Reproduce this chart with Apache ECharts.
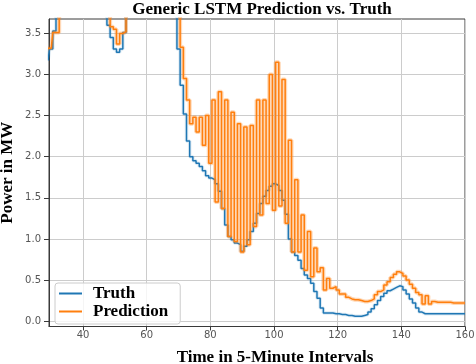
<!DOCTYPE html>
<html><head><meta charset="utf-8">
<script src="https://cdn.jsdelivr.net/npm/echarts@6/dist/echarts.min.js"></script>
<style>html,body{margin:0;padding:0;background:#fff}#c{width:476px;height:364px}</style>
</head><body><div id="c"></div>
<script>
// time index of the first value; values are one per 5-minute interval
const startStep = 29;
// Truth (MW), steps 29..160 (values above 3.67 leave the plotted window)
const truth = [
  3.17, 3.31, 3.53, 3.9, 3.9, 3.9, 3.9, 3.9, 3.9, 3.9,
  3.9, 3.9, 3.9, 3.9, 3.9, 3.9, 3.9, 3.9, 3.9, 3.6,
  3.45, 3.31, 3.27, 3.31, 3.51, 3.9, 3.9, 3.9, 3.9, 3.9,
  3.9, 3.9, 3.9, 3.9, 3.9, 3.9, 3.9, 3.9, 3.9, 3.9,
  3.9, 3.31, 2.87, 2.52, 2.19, 2.0, 1.95, 1.92, 1.88, 1.83,
  1.77, 1.74, 1.72, 1.67, 1.58, 1.37, 1.17, 1.03, 0.99, 0.95,
  0.93, 0.85, 0.91, 0.99, 1.09, 1.19, 1.31, 1.43, 1.52, 1.59,
  1.64, 1.67, 1.65, 1.59, 1.47, 1.3, 1.0, 0.84, 0.8, 0.74,
  0.64, 0.56, 0.52, 0.46, 0.36, 0.28, 0.16, 0.1, 0.1, 0.1,
  0.09, 0.09, 0.08, 0.08, 0.07, 0.07, 0.06, 0.06, 0.06, 0.07,
  0.08, 0.11, 0.15, 0.2, 0.25, 0.3, 0.34, 0.37, 0.39, 0.41,
  0.43, 0.42, 0.38, 0.33, 0.27, 0.22, 0.16, 0.11, 0.09, 0.09,
  0.09, 0.09, 0.09, 0.09, 0.09, 0.09, 0.09, 0.09, 0.09, 0.09,
  0.09, 0.09
];
// Prediction (MW), steps 29..160
const prediction = [
  3.32, 3.32, 3.51, 3.51, 3.9, 3.9, 3.9, 3.9, 3.9, 3.9,
  3.9, 3.9, 3.9, 3.9, 3.9, 3.9, 3.9, 3.9, 3.9, 3.9,
  3.58, 3.55, 3.37, 3.5, 3.52, 3.9, 3.9, 3.9, 3.9, 3.9,
  3.9, 3.9, 3.9, 3.9, 3.9, 3.9, 3.9, 3.9, 3.9, 3.9,
  3.9, 3.9, 3.33, 2.95, 2.69, 2.4, 2.48, 2.3, 2.48, 2.14,
  2.5, 1.92, 2.69, 1.45, 2.79, 1.37, 2.69, 1.03, 2.54, 0.97,
  2.4, 0.84, 2.36, 0.93, 2.38, 1.15, 2.69, 1.29, 2.69, 1.43,
  3.0, 1.35, 3.15, 1.4, 2.94, 1.19, 2.2, 0.84, 1.72, 0.84,
  1.29, 0.62, 1.09, 0.54, 0.89, 0.6, 0.65, 0.38, 0.52, 0.4,
  0.42, 0.38, 0.33, 0.33, 0.29, 0.27, 0.26, 0.26, 0.25, 0.24,
  0.24, 0.25, 0.27, 0.32, 0.36, 0.38, 0.44, 0.48, 0.53, 0.57,
  0.6, 0.58, 0.55, 0.5, 0.45, 0.4, 0.35, 0.32, 0.21, 0.31,
  0.21, 0.24, 0.23, 0.23, 0.23, 0.23, 0.23, 0.22, 0.22, 0.22,
  0.22, 0.22
];
const xTickValues = [40, 60, 80, 100, 120, 140, 160];
const yTickValues = [0, 0.5, 1, 1.5, 2, 2.5, 3, 3.5];
const seriesNames = ['Truth', 'Prediction'];

const steps = truth.map((_, i) => startStep + i);
const truthPts = steps.map((x, i) => [x, truth[i]]);
const predPts = steps.map((x, i) => [x, prediction[i]]);
const serif = '"Liberation Serif", "DejaVu Serif", serif';
const chart = echarts.init(document.getElementById('c'), null, {renderer: 'canvas'});
chart.setOption({
  animation: false,
  backgroundColor: '#fff',
  title: {
    text: 'Generic LSTM Prediction vs. Truth',
    left: 257, top: -4, textAlign: 'center',
    textStyle: {fontFamily: serif, fontWeight: 'bold', fontSize: 17, color: '#000'}
  },
  grid: {left: 49, right: 11, top: 19, bottom: 37.5, show: true, containLabel: false, outerBoundsMode: 'none',
    borderColor: '#3a3a3a', borderWidth: 1, backgroundColor: 'transparent'},
  legend: {
    orient: 'vertical', left: 55, top: 283,
    padding: [2, 12, 4, 4], itemGap: 1,
    itemWidth: 23, itemHeight: 2, icon: 'rect',
    backgroundColor: 'rgba(255,255,255,0.8)', borderColor: '#cccccc', borderWidth: 1, borderRadius: 3,
    textStyle: {fontFamily: serif, fontWeight: 'bold', fontSize: 17, color: '#000', lineHeight: 16, padding: [0, 0, 0, 6]},
    data: seriesNames
  },
  xAxis: {
    type: 'value', min: 29.3, max: 160,
    name: 'Time in 5-Minute Intervals', nameLocation: 'middle', nameGap: 23,
    nameTextStyle: {fontFamily: serif, fontWeight: 'bold', fontSize: 17, color: '#000', padding: [0, 0, 0, 36]},
    axisLine: {show: true, onZero: false, lineStyle: {color: '#3a3a3a', width: 1}},
    axisTick: {show: true, length: 4, customValues: xTickValues, lineStyle: {color: '#3a3a3a'}},
    axisLabel: {customValues: xTickValues, color: '#555', fontSize: 10, fontFamily: 'DejaVu Sans', margin: 4},
    splitLine: {show: true, lineStyle: {color: '#cccccc', width: 1}}
  },
  yAxis: {
    type: 'value', min: -0.065, max: 3.675,
    name: 'Power in MW', nameLocation: 'middle', nameGap: 33, nameMoveOverlap: false,
    nameTextStyle: {fontFamily: serif, fontWeight: 'bold', fontSize: 17, color: '#000'},
    axisLine: {show: true, onZero: false, lineStyle: {color: '#3a3a3a', width: 1}},
    axisTick: {show: true, length: 5, customValues: yTickValues, lineStyle: {color: '#3a3a3a'}},
    axisLabel: {customValues: yTickValues, color: '#555', fontSize: 10, fontFamily: 'DejaVu Sans', margin: 8,
      formatter: v => Number(v).toFixed(1)},
    splitLine: {show: true, lineStyle: {color: '#cccccc', width: 1}}
  },
  series: [
    {name: 'truth-halo', type: 'line', step: 'middle', symbol: 'none', clip: true, silent: true,
     data: truthPts, lineStyle: {color: '#1f77b4', width: 3.5, opacity: 0.15}, z: 1},
    {name: seriesNames[0], type: 'line', step: 'middle', symbol: 'none', clip: true,
     data: truthPts,
     lineStyle: {color: '#1f77b4', width: 1.5}, itemStyle: {color: '#1f77b4'}, z: 2},
    {name: 'pred-halo', type: 'line', step: 'middle', symbol: 'none', clip: true, silent: true,
     data: predPts, lineStyle: {color: '#ff7f0e', width: 4, opacity: 0.3}, z: 3},
    {name: seriesNames[1], type: 'line', step: 'middle', symbol: 'none', clip: true,
     data: predPts,
     lineStyle: {color: '#ff7f0e', width: 1.5}, itemStyle: {color: '#ff7f0e'}, z: 4}
  ]
});
</script></body></html>
